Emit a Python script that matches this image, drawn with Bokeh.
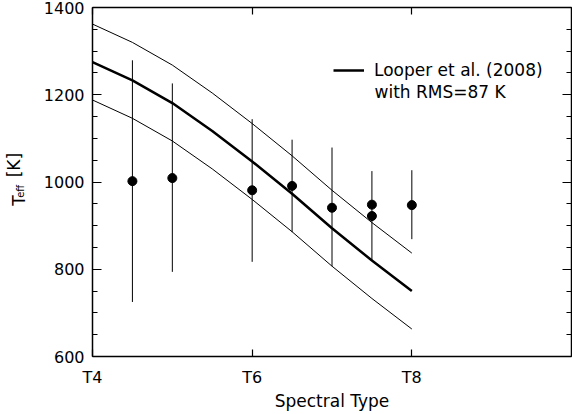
import math
from bokeh.plotting import figure
from bokeh.layouts import row
from bokeh.models import (Range1d, FixedTicker, LinearAxis, Label, Legend, LegendItem)
from bokeh.embed import file_html
from bokeh.resources import INLINE

# ---- data ----
spt = [4.5, 5.0, 6.0, 6.5, 7.0, 7.5, 7.5, 8.0]
teff = [1002, 1009, 981, 991, 941, 948, 922, 947]
bar_spt = [4.5, 5.0, 6.0, 6.5, 7.0, 7.5, 8.0]
bar_low = [725, 794, 817, 885, 807, 819, 869]
bar_high = [1279, 1226, 1144, 1097, 1079, 1025, 1027]

fit_spt = [4.0, 4.5, 5.0, 5.5, 6.0, 6.5, 7.0, 7.5, 8.0]
fit_teff = [1275, 1233, 1181, 1117, 1047, 973, 894, 820, 750]
rms = 87

x_ticks = [4, 6, 8]
x_tick_labels = {4: "T4", 6: "T6", 8: "T8"}
y_ticks = [600, 800, 1000, 1200, 1400]
y_minor = list(range(600, 1401, 50))

FONT = "DejaVu Sans"
W, H = 572, 414
SW = 40            # width of the strip holding the y-axis title
FL, FB = 91, 356   # frame left / bottom in page pixels

# ---- strip with the y-axis title ----
strip = figure(width=SW, height=H, output_backend="svg", toolbar_location=None,
               x_range=Range1d(0, SW), y_range=Range1d(0, H),
               min_border=0, x_axis_type=None, y_axis_type=None)
strip.outline_line_color = None
strip.xgrid.visible = False
strip.ygrid.visible = False

def slab(cx, cy, text, size):
    strip.add_layout(Label(x=cx, y=H - cy, text=text, text_font=FONT,
                           text_font_size=size, text_color="black",
                           angle=math.pi / 2, text_align="center",
                           text_baseline="middle"))

slab(18, 229, "T", "17px")
slab(19.5, 218, "eff", "10px")
slab(13, 187, "[K]", "17px")

# ---- main plot ----
fig = figure(width=W - SW, height=H, output_backend="svg", toolbar_location=None,
             x_range=Range1d(4, 10), y_range=Range1d(600, 1400),
             min_border_left=FL - SW, min_border_right=1, min_border_top=7,
             min_border_bottom=H - FB, x_axis_type=None, y_axis_type=None)
fig.outline_line_color = None
fig.xgrid.visible = False
fig.ygrid.visible = False
fig.background_fill_color = "white"
fig.border_fill_color = "white"

def style_axis(ax, show_labels, ticks):
    ax.axis_line_color = "black"
    ax.axis_line_width = 1.5
    ax.major_tick_line_color = "black"
    ax.minor_tick_line_color = "black"
    ax.major_tick_line_width = 1.2
    ax.minor_tick_line_width = 1.2
    ax.major_tick_out = 0
    ax.minor_tick_out = 0
    ax.major_label_text_font = FONT
    ax.major_label_text_color = "black"
    ax.axis_label_text_font = FONT
    ax.axis_label_text_font_style = "normal"
    ax.axis_label_text_color = "black"
    if not show_labels:
        ax.major_label_overrides = {t: "" for t in ticks}
        ax.major_label_text_font_size = "0px"
        ax.major_label_standoff = 0

xt = FixedTicker(ticks=x_ticks, minor_ticks=[])
yt = FixedTicker(ticks=y_ticks, minor_ticks=y_minor)

xb = LinearAxis(ticker=xt, major_label_overrides=x_tick_labels,
                axis_label="Spectral Type")
style_axis(xb, True, x_ticks)
xb.major_tick_in = 7
xb.major_label_text_font_size = "16px"
xb.major_label_standoff = 11
xb.axis_label_text_font_size = "17px"
xb.axis_label_standoff = 1
fig.add_layout(xb, "below")

xa = LinearAxis(ticker=xt)
style_axis(xa, False, x_ticks)
xa.major_tick_in = 7
fig.add_layout(xa, "above")

yl = LinearAxis(ticker=yt)
style_axis(yl, True, y_ticks)
yl.major_tick_in = 9
yl.minor_tick_in = 5
yl.major_label_text_font_size = "16px"
yl.major_label_standoff = 8
fig.add_layout(yl, "left")

yr = LinearAxis(ticker=yt)
style_axis(yr, False, y_ticks)
yr.major_tick_in = 9
yr.minor_tick_in = 5
fig.add_layout(yr, "right")

# ---- glyphs ----
fig.segment(x0=bar_spt, y0=bar_low, x1=bar_spt, y1=bar_high,
            line_color="black", line_width=1)
upper = [t + rms for t in fit_teff]
lower = [t - rms for t in fit_teff]
fig.line(fit_spt, upper, line_color="black", line_width=1)
fig.line(fit_spt, lower, line_color="black", line_width=1)
center = fig.line(fit_spt, fit_teff, line_color="black", line_width=2.5)
fig.scatter(spt, teff, size=9, marker="circle", fill_color="black",
            line_color="black")

legend = Legend(items=[LegendItem(label="Looper et al. (2008)", renderers=[center])],
                location=(241, 276), padding=0, margin=0, spacing=0,
                glyph_width=31, glyph_height=16, label_standoff=10,
                border_line_color=None, background_fill_alpha=0,
                label_text_font=FONT, label_text_font_size="17px",
                label_text_color="black")
fig.add_layout(legend, "center")

fig.add_layout(Label(x=373 - FL, y=FB - 91, x_units="screen", y_units="screen",
                     text="with RMS=87 K", text_font=FONT, text_font_size="17px",
                     text_baseline="alphabetic", text_color="black"))

p = row(strip, fig, spacing=0)
open("out.html", "w").write(file_html(p, INLINE))
